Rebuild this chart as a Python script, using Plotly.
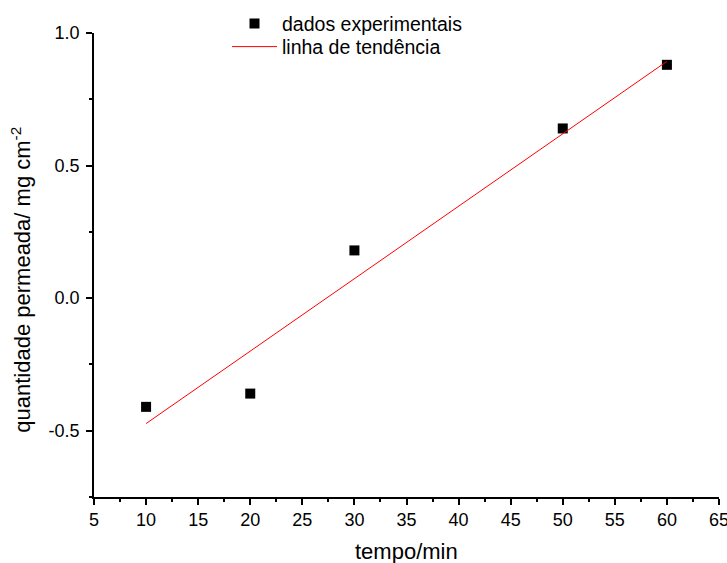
import plotly.graph_objects as go

tempo = [10, 20, 30, 50, 60]
quantidade = [-0.41, -0.36, 0.18, 0.64, 0.88]
trend_x = [10, 60]
trend_y = [-0.473, 0.893]

x_ticks = list(range(5, 70, 5))
y_ticks = [-0.5, 0.0, 0.5, 1.0]
y_labels = ["-0.5", "0.0", "0.5", "1.0"]

FONT = "Liberation Sans, Arial"

fig = go.Figure()
fig.add_trace(go.Scatter(
    x=tempo, y=quantidade, mode="markers", name="dados experimentais",
    marker=dict(symbol="square", size=10, color="black"),
    legend="legend",
))
fig.add_trace(go.Scatter(
    x=trend_x, y=trend_y, mode="lines", name="linha de tendência",
    line=dict(color="red", width=1),
    legend="legend2",
))

axis_common = dict(
    showgrid=False, zeroline=False, showline=True, linecolor="black", linewidth=1.5,
    ticks="outside", ticklen=6, tickwidth=1.5, tickcolor="black",
    tickfont=dict(family=FONT, size=18, color="black"),
    minor=dict(ticks="outside", ticklen=3, tickwidth=1.5, tickcolor="black"),
    automargin=False, ticklabeloverflow="allow",
)

fig.update_xaxes(
    range=[5, 65], tickmode="array", tickvals=x_ticks,
    ticktext=[str(v) for v in x_ticks],
    minor_dtick=2.5, minor_tick0=5,
    **axis_common,
)
fig.update_yaxes(
    range=[-0.75, 1.0], tickmode="array", tickvals=y_ticks, ticktext=y_labels,
    minor_dtick=0.25, minor_tick0=-0.75,
    ticklabelstandoff=3,
    **axis_common,
)

fig.add_annotation(
    text="tempo/min", xref="paper", yref="paper", x=0.5, y=-0.118,
    xanchor="center", yanchor="middle", showarrow=False,
    font=dict(family=FONT, size=22, color="black"),
)
fig.add_annotation(
    text="quantidade permeada/ mg cm<sup>-2</sup>", xref="paper", yref="paper",
    x=-0.117, y=0.468, textangle=-90,
    xanchor="center", yanchor="middle", showarrow=False,
    font=dict(family=FONT, size=22, color="black"),
)

legend_style = dict(
    xanchor="left", yanchor="middle",
    bgcolor="rgba(0,0,0,0)",
    font=dict(family=FONT, size=19.5, color="black"),
    itemwidth=45,
)

fig.update_layout(
    width=727, height=563,
    margin=dict(l=94, r=8, t=33, b=66, autoexpand=False),
    plot_bgcolor="white", paper_bgcolor="white",
    showlegend=True,
    legend=dict(x=0.2128, y=1.02, **legend_style),
    legend2=dict(x=0.2128, y=0.97, **legend_style),
)

fig.write_html("out.html", config={"displayModeBar": False},
               post_script="document.body.style.margin='0px';")
